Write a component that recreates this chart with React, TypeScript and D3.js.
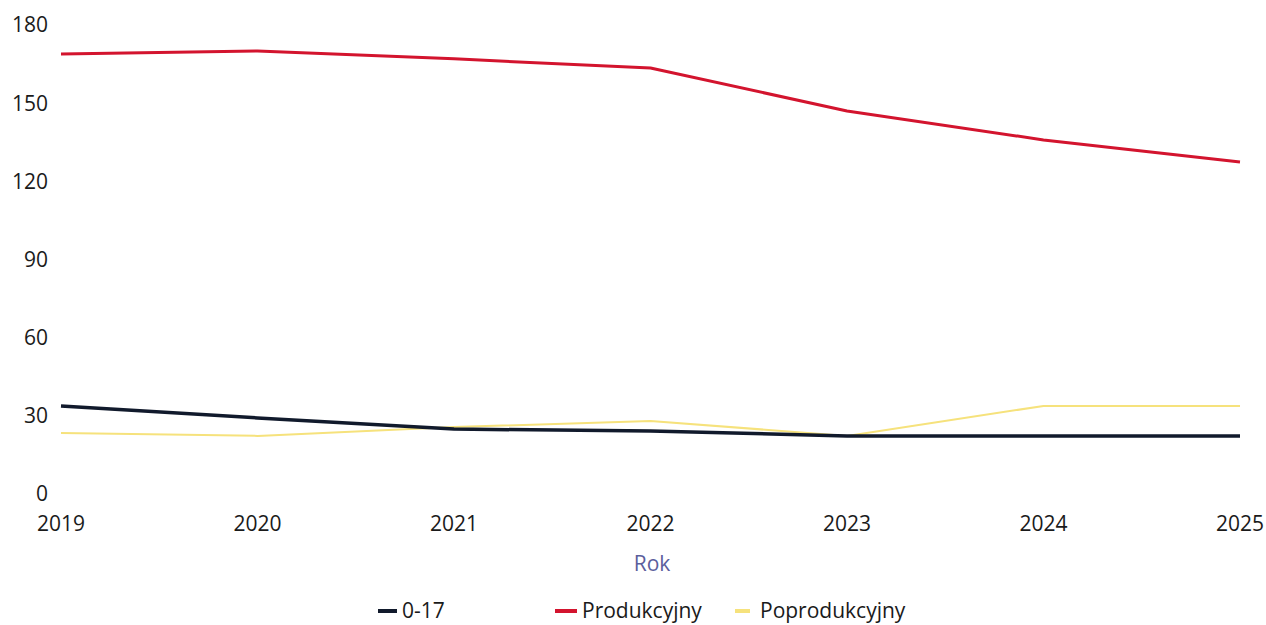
import React from "react";
import * as d3 from "d3";

const years = [2019, 2020, 2021, 2022, 2023, 2024, 2025];
const youth = [33.8, 29.2, 24.9, 24.2, 22.3, 22.3, 22.3];
const working = [168.9, 170.0, 167.0, 163.5, 147.0, 135.9, 127.4];
const retired = [23.4, 22.3, 25.7, 28.0, 22.3, 33.8, 33.8];
const yTicks = [0, 30, 60, 90, 120, 150, 180];
const seriesNames = ["0-17", "Produkcyjny", "Poprodukcyjny"];
const seriesColors = ["#111a2c", "#d3142e", "#f6e27c"];
const seriesWidths = [3.5, 3, 2];

const W = 1266;
const H = 625;
const FONT = "'Open Sans', 'Noto Sans', sans-serif";
const FS = 21;

export default function App() {
  const x = d3.scaleLinear().domain([2019, 2025]).range([61, 1240]);
  const y = d3.scaleLinear().domain([0, 180]).range([494, 25]);
  const line = d3
    .line<[number, number]>()
    .x((d) => x(d[0]))
    .y((d) => y(d[1]));
  const data = [youth, working, retired];
  const legendX = [378, 555, 735];
  const legendMarkW = [19, 22, 15];

  return (
    <svg
      width={W}
      height={H}
      style={{ position: "absolute", left: 0, top: 0, background: "#fff" }}
      fontFamily={FONT}
    >
      {yTicks.map((t) => (
        <text key={t} x={48} y={y(t)} dy="0.35em" textAnchor="end" fontSize={FS} fill="#1a1a1a">
          {t}
        </text>
      ))}
      {years.map((yr) => (
        <text key={yr} x={x(yr)} y={524} dy="0.35em" textAnchor="middle" fontSize={FS} fill="#1a1a1a">
          {yr}
        </text>
      ))}
      <text x={652} y={564} dy="0.35em" textAnchor="middle" fontSize={FS} fill="#5b5e9c">
        Rok
      </text>
      {[2, 0, 1].map((i) => (
        <path
          key={i}
          d={line(years.map((yr, j) => [yr, data[i][j]] as [number, number])) || ""}
          fill="none"
          stroke={seriesColors[i]}
          strokeWidth={seriesWidths[i]}
          strokeLinejoin="round"
        />
      ))}
      {seriesNames.map((n, i) => (
        <g key={n}>
          <line
            x1={legendX[i]}
            x2={legendX[i] + legendMarkW[i]}
            y1={611}
            y2={611}
            stroke={seriesColors[i]}
            strokeWidth={4}
          />
          <text
            x={legendX[i] + legendMarkW[i] + (i === 2 ? 10 : 5)}
            y={611}
            dy="0.35em"
            fontSize={FS}
            fill="#1a1a1a"
          >
            {n}
          </text>
        </g>
      ))}
    </svg>
  );
}
